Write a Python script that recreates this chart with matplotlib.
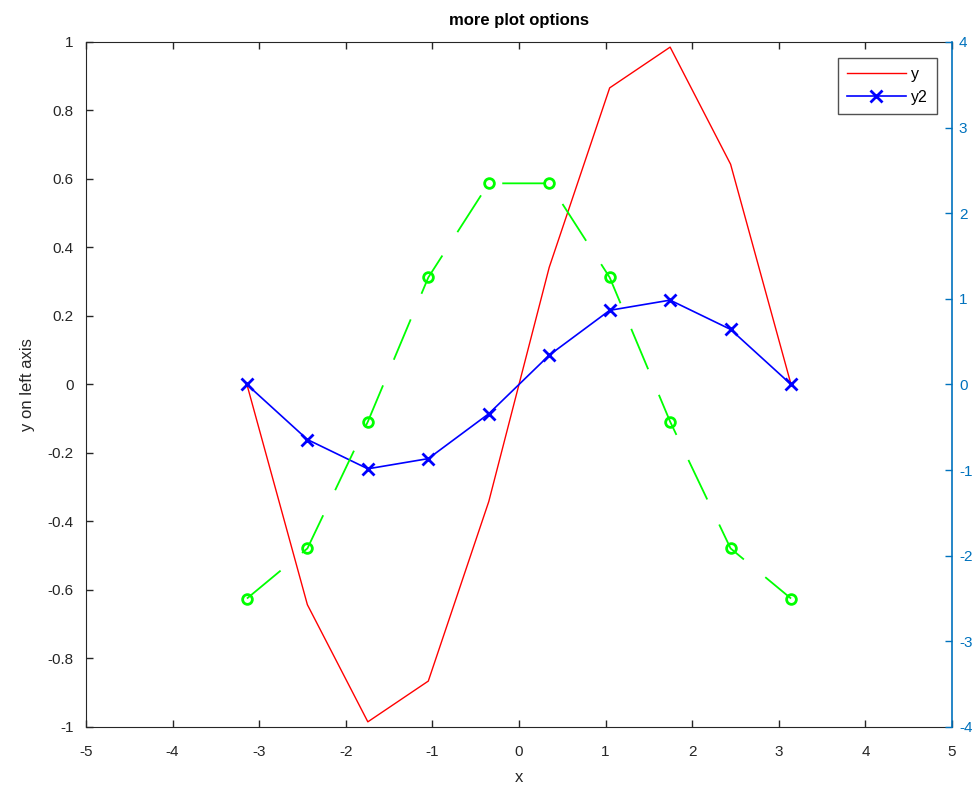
import matplotlib
matplotlib.use('Agg')
import matplotlib.pyplot as plt
from matplotlib.lines import Line2D

plt.rcParams['font.family'] = ['Liberation Sans', 'DejaVu Sans']
plt.rcParams['axes.unicode_minus'] = False
plt.rcParams['lines.scale_dashes'] = False

x = [-3.1416, -2.4435, -1.7453, -1.0472, -0.3491, 0.3491, 1.0472, 1.7453, 2.4435, 3.1416]
y = [0.0, -0.643, -0.985, -0.866, -0.342, 0.342, 0.866, 0.985, 0.643, 0.0]
y2 = [0.0, -0.643, -0.985, -0.866, -0.342, 0.342, 0.866, 0.985, 0.643, 0.0]
y3 = [-2.5, -1.915, -0.434, 1.25, 2.349, 2.349, 1.25, -0.434, -1.915, -2.5]

dark = (0.15, 0.15, 0.15)
mblue = (0.0, 0.447, 0.741)

fig = plt.figure(figsize=(9.76, 7.86), dpi=100)
ax = fig.add_axes([0.0881, 0.0751, 0.8873, 0.8715])
ax2 = ax.twinx()

ax.plot(x, y, color='red', lw=1.0)
ax2.plot(x, y2, color='blue', lw=1.2, marker='x', ms=8, mew=2)
ax2.plot(x, y3, color=(0, 1, 0), lw=1.3, dashes=(31.5, 20), marker='o', ms=7,
         mfc='none', mew=2)

ax.set_xlim(-5, 5)
ax.set_ylim(-1, 1)
ax2.set_ylim(-4, 4)
ax.set_xticks(range(-5, 6))
ax.set_yticks([-1, -0.8, -0.6, -0.4, -0.2, 0, 0.2, 0.4, 0.6, 0.8, 1])
ax.set_yticklabels(['-1', '-0.8', '-0.6', '-0.4', '-0.2', '0', '0.2', '0.4', '0.6', '0.8', '1'])
ax2.set_yticks(range(-4, 5))

ax.tick_params(axis='both', direction='in', length=5, width=1, colors=dark,
               labelsize=11, top=True)
ax.tick_params(axis='x', pad=13)
ax.tick_params(axis='y', right=False, pad=9)
ax2.tick_params(axis='y', direction='in', length=5, width=1, colors=mblue,
                labelsize=11, pad=5)

for s in ['left', 'bottom', 'top']:
    ax.spines[s].set_color(dark)
ax2.spines['right'].set_color(mblue)
ax2.spines['right'].set_linewidth(1.2)
ax.spines['right'].set_visible(False)
for s in ['left', 'bottom', 'top']:
    ax2.spines[s].set_visible(False)

ax.set_title('more plot options', fontsize=12, fontweight='bold', color='black', pad=12)
ax.set_xlabel('x', fontsize=12, color=dark, labelpad=8)
ax.set_ylabel('y on left axis', fontsize=12, color=dark, labelpad=9)

handles = [Line2D([], [], color='red', lw=1.0),
           Line2D([], [], color='blue', lw=1.2, marker='x', ms=8, mew=2)]
leg = ax2.legend(handles, ['y', 'y2'], loc='upper right', bbox_to_anchor=(0.9827, 0.9766),
                 fontsize=11.5, frameon=True, fancybox=False, handlelength=3.7,
                 handletextpad=0.35, borderpad=0.55, labelspacing=0.5, borderaxespad=0)
leg.get_frame().set_edgecolor(dark)
leg.get_frame().set_linewidth(1)

fig.savefig('out.png', dpi=100)
